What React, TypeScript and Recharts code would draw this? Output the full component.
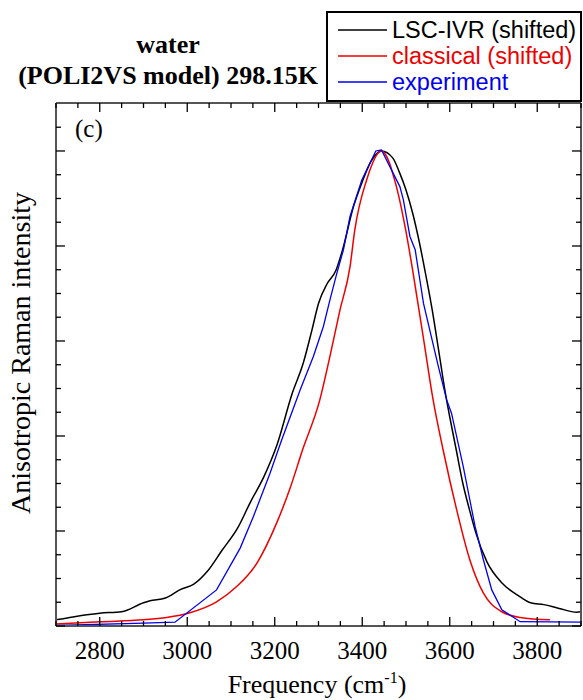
import { LineChart, Line, XAxis, YAxis } from "recharts";

// LSC-IVR (shifted)
const lscFreq = [2700, 2800, 2850, 2900, 2915, 2950, 2985, 3015, 3045, 3080, 3115, 3145, 3175, 3205, 3240, 3265, 3285, 3300, 3320, 3340, 3355, 3380, 3400, 3420, 3444, 3470, 3485, 3500, 3515, 3530, 3545, 3560, 3575, 3590, 3600, 3615, 3630, 3645, 3660, 3685, 3720, 3760, 3785, 3815, 3850, 3890, 3900];
const lscInt = [0.013, 0.027, 0.03, 0.049, 0.053, 0.059, 0.077, 0.088, 0.114, 0.16, 0.206, 0.262, 0.314, 0.381, 0.49, 0.553, 0.623, 0.679, 0.721, 0.749, 0.792, 0.883, 0.935, 0.978, 1.0, 0.985, 0.955, 0.918, 0.87, 0.81, 0.74, 0.665, 0.578, 0.49, 0.44, 0.37, 0.3, 0.245, 0.195, 0.135, 0.09, 0.062, 0.049, 0.045, 0.037, 0.029, 0.03];

// classical (shifted)
const clsFreq = [2700, 2800, 2900, 2953, 3006, 3067, 3113, 3159, 3204, 3235, 3264, 3303, 3326, 3349, 3372, 3383, 3410, 3444, 3480, 3500, 3515, 3528, 3540, 3562, 3585, 3616, 3646, 3677, 3719, 3761, 3829];
const clsInt = [0.004, 0.009, 0.013, 0.018, 0.028, 0.051, 0.083, 0.132, 0.216, 0.29, 0.372, 0.476, 0.567, 0.665, 0.756, 0.834, 0.939, 1.0, 0.918, 0.83, 0.75, 0.675, 0.605, 0.476, 0.37, 0.244, 0.139, 0.069, 0.03, 0.018, 0.013];

// experiment
const expFreq = [2700, 2900, 2972, 3067, 3121, 3151, 3189, 3216, 3258, 3288, 3311, 3326, 3342, 3357, 3372, 3399, 3431, 3444, 3486, 3494, 3509, 3521, 3540, 3574, 3593, 3604, 3631, 3658, 3677, 3696, 3719, 3761, 3900];
const expInt = [0.001, 0.006, 0.008, 0.076, 0.164, 0.23, 0.321, 0.392, 0.497, 0.567, 0.63, 0.686, 0.743, 0.792, 0.862, 0.939, 1.0, 1.002, 0.925, 0.897, 0.82, 0.792, 0.679, 0.546, 0.476, 0.448, 0.335, 0.209, 0.139, 0.076, 0.034, 0.009, 0.008];

const xTicks = [2700, 2750, 2800, 2850, 2900, 2950, 3000, 3050, 3100, 3150, 3200, 3250, 3300, 3350, 3400, 3450, 3500, 3550, 3600, 3650, 3700, 3750, 3800, 3850, 3900];
const xLabels = [2800, 3000, 3200, 3400, 3600, 3800];
const yTicks = [0, 0.05, 0.1, 0.15, 0.2, 0.25, 0.3, 0.35, 0.4, 0.45, 0.5, 0.55, 0.6, 0.65, 0.7, 0.75, 0.8, 0.85, 0.9, 0.95, 1.0, 1.05];

const zip = (f: number[], v: number[]) => f.map((x, i) => ({ freq: x, value: v[i] }));
const lscData = zip(lscFreq, lscInt);
const clsData = zip(clsFreq, clsInt);
const expData = zip(expFreq, expInt);

const serif = "'Liberation Serif', 'Times New Roman', serif";
const sans = "'Liberation Sans', Arial, sans-serif";
const axisCol = "#555";

const isMajorX = (v: number) => v % 200 === 0;
const isMajorY = (v: number) => Math.round(v * 100) % 20 === 0;

const BottomTick = ({ x, y, payload }: any) => {
  const v = payload.value;
  return (
    <g>
      <line x1={x} x2={x} y1={y} y2={y - (isMajorX(v) ? 9 : 5)} stroke="#000" strokeWidth={1.3} />
      {xLabels.includes(v) && (
        <text x={x} y={y + 33} textAnchor="middle" fontFamily="Liberation Serif" fontSize={25} fill="#000">
          {v}
        </text>
      )}
    </g>
  );
};

const TopTick = ({ x, y, payload }: any) => (
  <line x1={x} x2={x} y1={y} y2={y + (isMajorX(payload.value) ? 9 : 5)} stroke="#000" strokeWidth={1.3} />
);

const LeftTick = ({ x, y, payload }: any) => (
  <line x1={x} x2={x + (isMajorY(payload.value) ? 9 : 5)} y1={y} y2={y} stroke="#000" strokeWidth={1.3} />
);

const RightTick = ({ x, y, payload }: any) => (
  <line x1={x} x2={x - (isMajorY(payload.value) ? 9 : 5)} y1={y} y2={y} stroke="#000" strokeWidth={1.3} />
);

const legendItems = [
  { name: "LSC-IVR (shifted)", color: "#000000" },
  { name: "classical (shifted)", color: "#ee0000" },
  { name: "experiment", color: "#0000ee" },
];

export default function App() {
  return (
    <div style={{ position: "absolute", left: 0, top: 0, width: 583, height: 700, background: "#fff" }}>
      <LineChart width={583} height={700} margin={{ top: 0, right: 0, bottom: 0, left: 0 }}>
        <XAxis
          xAxisId="b"
          dataKey="freq"
          type="number"
          orientation="bottom"
          domain={[2700, 3900]}
          allowDataOverflow
          ticks={xTicks}
          interval={0}
          tick={<BottomTick />}
          tickSize={0}
          tickMargin={0}
          tickLine={false}
          height={74}
          axisLine={{ stroke: axisCol, strokeWidth: 2 }}
        />
        <XAxis
          xAxisId="t"
          dataKey="freq"
          type="number"
          orientation="top"
          domain={[2700, 3900]}
          allowDataOverflow
          ticks={xTicks}
          interval={0}
          tick={<TopTick />}
          tickSize={0}
          tickMargin={0}
          tickLine={false}
          height={103}
          axisLine={{ stroke: axisCol, strokeWidth: 2 }}
        />
        <YAxis
          yAxisId="l"
          type="number"
          domain={[0, 1.101]}
          allowDataOverflow
          ticks={yTicks}
          interval={0}
          tick={<LeftTick />}
          tickSize={0}
          tickMargin={0}
          tickLine={false}
          width={56}
          axisLine={{ stroke: axisCol, strokeWidth: 2 }}
        />
        <YAxis
          yAxisId="r"
          type="number"
          orientation="right"
          domain={[0, 1.101]}
          allowDataOverflow
          ticks={yTicks}
          interval={0}
          tick={<RightTick />}
          tickSize={0}
          tickMargin={0}
          tickLine={false}
          width={2}
          axisLine={{ stroke: axisCol, strokeWidth: 2 }}
        />
        <Line xAxisId="t" yAxisId="r" data={expData} dataKey="value" stroke="none" dot={false} isAnimationActive={false} />
        <Line xAxisId="b" yAxisId="l" data={lscData} dataKey="value" type="monotone" stroke="#000000" strokeWidth={1.5} dot={false} isAnimationActive={false} />
        <Line xAxisId="b" yAxisId="l" data={clsData} dataKey="value" type="monotone" stroke="#ee0000" strokeWidth={1.5} dot={false} isAnimationActive={false} />
        <Line xAxisId="b" yAxisId="l" data={expData} dataKey="value" type="linear" stroke="#0000ee" strokeWidth={1.3} dot={false} isAnimationActive={false} />
      </LineChart>
      <svg width={583} height={700} style={{ position: "absolute", left: 0, top: 0, pointerEvents: "none" }}>
        <text x={168} y={53} textAnchor="middle" fontFamily={serif} fontWeight="bold" fontSize={26}>water</text>
        <text x={168} y={84} textAnchor="middle" fontFamily={serif} fontWeight="bold" fontSize={26}>(POLI2VS model) 298.15K</text>
        <rect x={327} y={12} width={254} height={89} fill="#fff" stroke="#000" strokeWidth={2} />
        {legendItems.map((it, i) => (
          <g key={it.name}>
            <line x1={338} x2={387} y1={30 + i * 26} y2={30 + i * 26} stroke={it.color} strokeWidth={1.3} />
            <text x={392} y={38 + i * 26} fontFamily={sans} fontSize={23.5} fill={it.color}>{it.name}</text>
          </g>
        ))}
        <text x={75} y={137} fontFamily={serif} fontSize={25}>(c)</text>
        <text transform="translate(30,353) rotate(-90)" textAnchor="middle" fontFamily={serif} fontSize={28}>
          Anisotropic Raman intensity
        </text>
        <text x={317} y={693} textAnchor="middle" fontFamily={serif} fontSize={26}>
          Frequency (cm<tspan dy={-10} fontSize={16}>-1</tspan><tspan dy={10}>)</tspan>
        </text>
      </svg>
    </div>
  );
}
